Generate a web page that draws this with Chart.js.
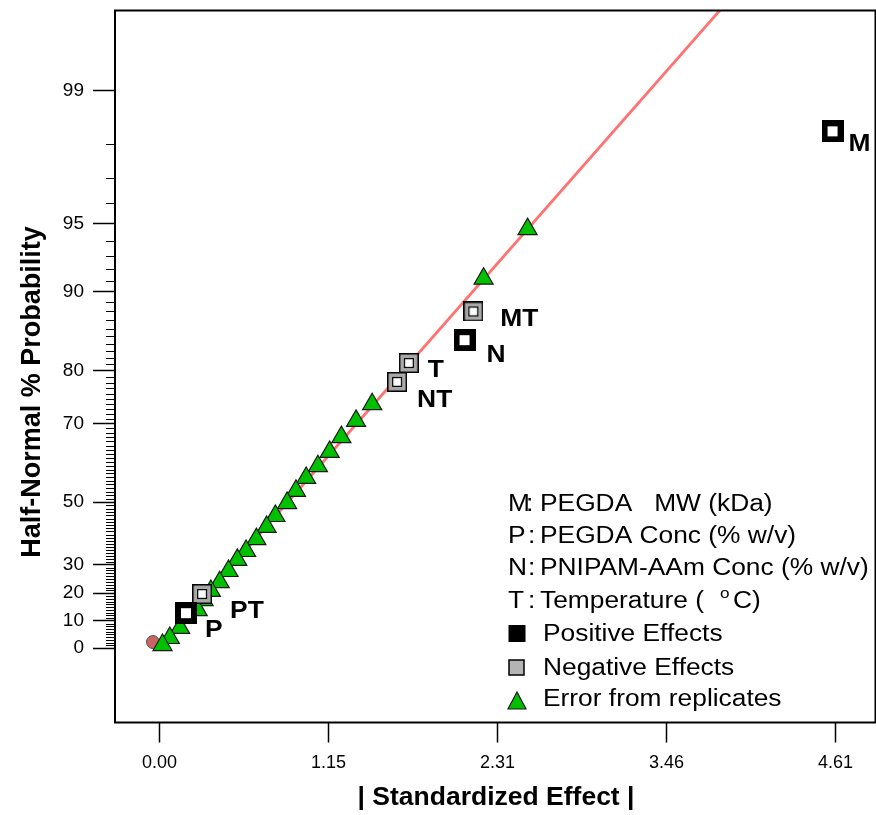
<!DOCTYPE html>
<html>
<head>
<meta charset="utf-8">
<title>Half-Normal Plot</title>
<script src="https://cdn.jsdelivr.net/npm/chart.js@4.4.0/dist/chart.umd.min.js"></script>
<style>
  html, body { margin: 0; padding: 0; background: #fff; }
  #wrap { position: relative; width: 876px; height: 815px; }
</style>
</head>
<body>
<div id="wrap"><canvas id="halfNormal"></canvas></div>
<script>
// Effects (labelled squares)
const effectNames = ['M', 'MT', 'N', 'T', 'NT', 'PT', 'P'];
const effectValues = [4.59, 2.14, 2.08, 1.70, 1.62, 0.29, 0.18];
const effectProbs = [98.3, 88.0, 84.5, 81.2, 78.1, 19.7, 12.8];
const effectSigns = ['+', '-', '+', '-', '-', '-', '+'];

// Error from replicates (triangles)
const errorValues = [2.51, 2.21, 1.45, 1.34, 1.24, 1.16, 1.08, 1.00, 0.93, 0.87, 0.79, 0.73,
  0.66, 0.59, 0.53, 0.47, 0.41, 0.35, 0.30, 0.26, 0.14, 0.07, 0.02];
const errorProbs = [94.7, 91.2, 74.0, 70.6, 67.0, 63.5, 59.9, 56.8, 53.2, 49.7, 45.8, 42.4,
  38.5, 34.6, 31.6, 27.8, 23.9, 20.8, 17.5, 13.9, 7.4, 3.7, 1.1];

// Fitted line through the error points, and the point at the origin
const lineValues = [0, 3.85];
const lineProbs = [0, 99.7];
const originValues = [-0.045];
const originProbs = [2.2];

// Axes
const xTickValues = [0, 1.1525, 2.305, 3.4575, 4.61];
const xTickLabels = ['0.00', '1.15', '2.31', '3.46', '4.61'];
const yTickProbs = [0, 10, 20, 30, 50, 70, 80, 90, 95, 99];

// Legend text
const legendKeys = ['M', 'P', 'N', 'T'];
const legendNames = ['PEGDA   MW (kDa)', 'PEGDA Conc (% w/v)', 'PNIPAM-AAm Conc (% w/v)', 'Temperature ('];
const legendSymbols = ['Positive Effects', 'Negative Effects', 'Error from replicates'];

// label offsets from the point centre (px)
const labelOffsets = {
  M: [16, 20], MT: [27, 15], N: [22, 22], T: [19, 14], NT: [20, 25], PT: [28, 24], P: [19, 24]
};

/**
 * Inverse standard normal CDF (Acklam)
 */
function normInv(p) {
  const a = [-3.969683028665376e+01, 2.209460984245205e+02, -2.759285104469687e+02, 1.383577518672690e+02, -3.066479806614716e+01, 2.506628277459239e+00];
  const b = [-5.447609879822406e+01, 1.615858368580409e+02, -1.556989798598866e+02, 6.680131188771972e+01, -1.328068155288572e+01];
  const c = [-7.784894002430293e-03, -3.223964580411365e-01, -2.400758277161838e+00, -2.549732539343734e+00, 4.374664141464968e+00, 2.938163982698783e+00];
  const d = [7.784695709041462e-03, 3.224671290700398e-01, 2.445134137142996e+00, 3.754408661907416e+00];
  const pl = 0.02425;
  let q, r;
  if (p < pl) {
    q = Math.sqrt(-2 * Math.log(p));
    return (((((c[0] * q + c[1]) * q + c[2]) * q + c[3]) * q + c[4]) * q + c[5]) /
      ((((d[0] * q + d[1]) * q + d[2]) * q + d[3]) * q + 1);
  }
  if (p <= 1 - pl) {
    q = p - 0.5; r = q * q;
    return (((((a[0] * r + a[1]) * r + a[2]) * r + a[3]) * r + a[4]) * r + a[5]) * q /
      (((((b[0] * r + b[1]) * r + b[2]) * r + b[3]) * r + b[4]) * r + 1);
  }
  q = Math.sqrt(-2 * Math.log(1 - p));
  return -(((((c[0] * q + c[1]) * q + c[2]) * q + c[3]) * q + c[4]) * q + c[5]) /
    ((((d[0] * q + d[1]) * q + d[2]) * q + d[3]) * q + 1);
}

// half-normal % probability -> axis units
function hz(pct) {
  if (pct <= 0) return 0;
  return normInv((1 + pct / 100) / 2);
}

function toPoints(xs, ps) {
  return xs.map((v, i) => ({ x: v, y: hz(ps[i]) }));
}

/**
 * Square markers
 */
function makePositiveMarker() {
  const c = document.createElement('canvas');
  c.width = 22; c.height = 22;
  const g = c.getContext('2d');
  g.fillStyle = '#000';
  g.fillRect(0, 0, 22, 22);
  g.fillStyle = '#fff';
  g.fillRect(6, 6, 10, 10);
  return c;
}

function makeNegativeMarker() {
  const c = document.createElement('canvas');
  c.width = 20; c.height = 20;
  const g = c.getContext('2d');
  g.fillStyle = '#000';
  g.fillRect(0, 0, 20, 20);
  g.fillStyle = '#a9a9a9';
  g.fillRect(1.5, 1.5, 17, 17);
  g.fillStyle = '#000';
  g.fillRect(5, 5, 10, 10);
  g.fillStyle = '#fff';
  g.fillRect(6.2, 6.2, 7.6, 7.6);
  return c;
}

const posMarker = makePositiveMarker();
const negMarker = makeNegativeMarker();

function wideText(ctx, s, x, y, font, sx, align) {
  ctx.save();
  ctx.font = font;
  ctx.translate(x, y);
  ctx.scale(sx, 1);
  ctx.textAlign = align || 'left';
  ctx.textBaseline = 'alphabetic';
  ctx.fillText(s, 0, 0);
  ctx.restore();
}

/**
 * Frame, minor ticks, titles, point labels and legend
 */
const overlay = {
  id: 'overlay',
  afterDraw(chart) {
    const { ctx, chartArea: area, scales } = chart;
    const xs = scales.x, ys = scales.y;
    ctx.save();
    ctx.fillStyle = '#000';
    ctx.strokeStyle = '#000';

    // minor ticks every 1 %
    ctx.lineWidth = 1;
    ctx.beginPath();
    for (let p = 1; p < 99; p++) {
      if (yTickProbs.includes(p)) continue;
      const py = Math.round(ys.getPixelForValue(hz(p))) + 0.5;
      ctx.moveTo(area.left - 9, py);
      ctx.lineTo(area.left, py);
    }
    ctx.stroke();

    // frame
    ctx.lineWidth = 2;
    ctx.strokeRect(area.left, area.top, area.right - area.left, area.bottom - area.top);

    // axis titles
    ctx.save();
    ctx.translate(33, 392);
    ctx.rotate(-Math.PI / 2);
    ctx.font = 'bold 27px Arial';
    ctx.textAlign = 'center';
    ctx.textBaseline = 'middle';
    ctx.fillText('Half-Normal % Probability', 0, 0);
    ctx.restore();
    wideText(ctx, '| Standardized Effect |', 496, 805, 'bold 25px Arial', 1.06, 'center');

    // effect labels
    effectNames.forEach((name, i) => {
      const px = xs.getPixelForValue(effectValues[i]);
      const py = ys.getPixelForValue(hz(effectProbs[i]));
      const off = labelOffsets[name];
      wideText(ctx, name, px + off[0], py + off[1], 'bold 24px Arial', 1.1);
    });

    // legend: factor keys
    const rowY = [503, 535, 567, 600];
    const font = '23px Arial';
    const sx = 1.145;
    legendKeys.forEach((k, i) => {
      const base = rowY[i] + 8.3;
      wideText(ctx, k, 508, base, font, sx);
      wideText(ctx, ':', k === 'M' ? 526 : 528, base, font, sx);
      wideText(ctx, legendNames[i], 540, base, font, sx);
      if (k === 'T') {
        ctx.font = font;
        const w = ctx.measureText(legendNames[i]).width * sx;
        wideText(ctx, 'o', 540 + w + 16, base - 10, '15px Arial', sx);
        wideText(ctx, 'C)', 540 + w + 29, base, font, sx);
      }
    });

    // legend: symbols
    const symY = [633, 667, 698];
    ctx.fillStyle = '#000';
    ctx.fillRect(508.5, 625, 17, 17);
    ctx.fillStyle = '#b4b4b4';
    ctx.fillRect(509, 660, 15, 15);
    ctx.lineWidth = 1.5;
    ctx.strokeRect(509, 660, 15, 15);
    ctx.beginPath();
    ctx.moveTo(517, 692);
    ctx.lineTo(526, 709);
    ctx.lineTo(508, 709);
    ctx.closePath();
    ctx.fillStyle = '#00c000';
    ctx.fill();
    ctx.lineWidth = 1.2;
    ctx.strokeStyle = '#1a1a1a';
    ctx.stroke();
    ctx.fillStyle = '#000';
    legendSymbols.forEach((s, i) => {
      wideText(ctx, s, 543, symY[i] + 8.3, font, sx);
    });

    ctx.restore();
  }
};

Chart.defaults.font.family = 'Arial, "Liberation Sans", sans-serif';
Chart.defaults.color = '#000';

new Chart(document.getElementById('halfNormal'), {
  type: 'scatter',
  data: {
    datasets: [
      {
        label: 'Effects',
        data: toPoints(effectValues, effectProbs),
        pointStyle: (c) => effectSigns[c.dataIndex] === '+' ? posMarker : negMarker,
        pointRadius: 10
      },
      {
        label: 'Error from replicates',
        data: toPoints(errorValues, errorProbs),
        pointStyle: 'triangle',
        pointRadius: 11,
        backgroundColor: '#00c000',
        borderColor: '#1a1a1a',
        borderWidth: 1.2
      },
      {
        label: 'Fit',
        data: toPoints(lineValues, lineProbs),
        showLine: true,
        pointRadius: 0,
        borderColor: '#ff7272',
        borderWidth: 2.8
      },
      {
        label: 'Origin',
        data: toPoints(originValues, originProbs),
        pointStyle: 'circle',
        pointRadius: 6.5,
        backgroundColor: '#c86464',
        borderColor: '#555',
        borderWidth: 1
      }
    ]
  },
  options: {
    responsive: true,
    maintainAspectRatio: false,
    animation: false,
    layout: { autoPadding: false, padding: { top: 10.5, right: 0.5, left: 0, bottom: 0 } },
    plugins: {
      legend: { display: false },
      tooltip: { enabled: false }
    },
    scales: {
      x: {
        type: 'linear',
        min: -0.304,
        max: 4.883,
        afterBuildTicks: (scale) => {
          scale.ticks = xTickValues.map(v => ({ value: v }));
        },
        afterFit: (scale) => {
          scale.height = 92.5;
          scale.paddingLeft = 0;
          scale.paddingRight = 0;
        },
        ticks: {
          autoSkip: false,
          maxRotation: 0,
          padding: 10,
          font: { size: 18 },
          callback: (v, i) => xTickLabels[i]
        },
        grid: { drawOnChartArea: false, tickLength: 20, tickColor: '#000', tickWidth: 1.5 },
        border: { display: false }
      },
      y: {
        type: 'linear',
        min: -0.344,
        max: 2.945,
        afterBuildTicks: (scale) => {
          scale.ticks = yTickProbs.map(p => ({ value: hz(p) }));
        },
        afterFit: (scale) => {
          scale.width = 115;
          scale.paddingTop = 0;
          scale.paddingBottom = 0;
        },
        ticks: {
          autoSkip: false,
          padding: 9,
          font: { size: 19 },
          callback: (v, i) => String(yTickProbs[i])
        },
        grid: { drawOnChartArea: false, tickLength: 22, tickColor: '#000', tickWidth: 1.5 },
        border: { display: false }
      }
    }
  },
  plugins: [overlay]
});
</script>
</body>
</html>
